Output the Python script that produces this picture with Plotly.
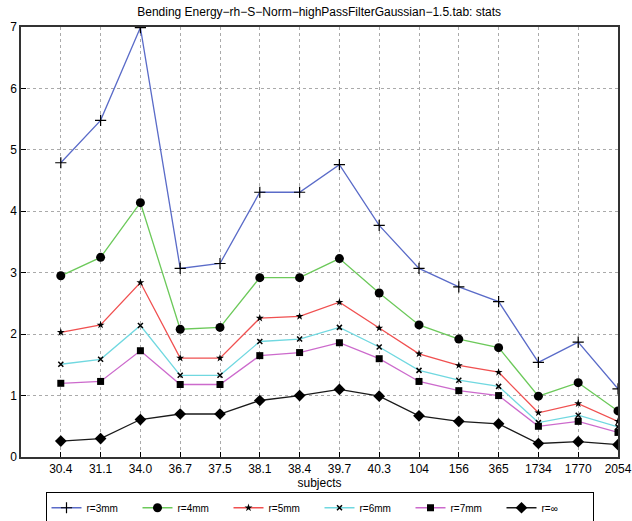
import plotly.graph_objects as go

subjects = ["30.4", "31.1", "34.0", "36.7", "37.5", "38.1", "38.4", "39.7",
            "40.3", "104", "156", "365", "1734", "1770", "2054"]

r3 = [4.79, 5.48, 6.99, 3.07, 3.15, 4.31, 4.31, 4.76, 3.77, 3.07, 2.77, 2.53, 1.54, 1.87, 1.11]
r4 = [2.95, 3.25, 4.14, 2.08, 2.11, 2.92, 2.92, 3.23, 2.67, 2.15, 1.92, 1.78, 0.99, 1.21, 0.75]
r5 = [2.03, 2.15, 2.84, 1.61, 1.61, 2.26, 2.29, 2.52, 2.10, 1.68, 1.49, 1.38, 0.72, 0.87, 0.58]
r6 = [1.51, 1.59, 2.14, 1.33, 1.33, 1.88, 1.92, 2.11, 1.79, 1.41, 1.25, 1.15, 0.56, 0.68, 0.49]
r7 = [1.20, 1.23, 1.73, 1.18, 1.18, 1.65, 1.70, 1.86, 1.60, 1.23, 1.08, 1.00, 0.50, 0.58, 0.40]
rinf = [0.26, 0.30, 0.61, 0.70, 0.70, 0.92, 1.00, 1.10, 0.99, 0.67, 0.58, 0.54, 0.22, 0.25, 0.20]

series_names = ["r=3mm", "r=4mm", "r=5mm", "r=6mm", "r=7mm", "r=\u221e"]
series_values = [r3, r4, r5, r6, r7, rinf]
line_colors = ["#5a6bc8", "#6cc95a", "#f05050", "#70d8e0", "#cc6acc", "#1a1a1a"]
markers = [
    dict(symbol="cross-thin", size=8, color="black", line=dict(color="black", width=1.2)),
    dict(symbol="circle", size=9, color="black"),
    dict(symbol="star", size=6, color="black"),
    dict(symbol="x-thin", size=5, color="black", line=dict(color="black", width=1.5)),
    dict(symbol="square", size=7, color="black"),
    dict(symbol="diamond", size=9, color="black"),
]

fig = go.Figure()
for name, vals, col, mk in zip(series_names, series_values, line_colors, markers):
    fig.add_trace(go.Scatter(
        x=subjects, y=vals, mode="lines+markers", name=name,
        line=dict(color=col, width=1.3), marker=mk,
    ))

font_family = "Liberation Sans, Arial, sans-serif"
fig.update_layout(
    width=632, height=521,
    margin=dict(l=21, r=14, t=27, b=64, autoexpand=False),
    paper_bgcolor="white", plot_bgcolor="white",
    font=dict(family=font_family, size=12, color="black"),
    title=dict(
        text="Bending Energy\u2212rh\u2212S\u2212Norm\u2212highPassFilterGaussian\u22121.5.tab: stats",
        x=0.505, xanchor="center", y=0.977, yanchor="middle",
        font=dict(size=12, family=font_family),
    ),
    showlegend=True,
    legend=dict(
        orientation="h", x=0.5, xanchor="center", y=-0.082, yanchor="top",
        bordercolor="black", borderwidth=1, bgcolor="white",
        font=dict(size=10, family=font_family),
        entrywidth=46, entrywidthmode="pixels",
        itemsizing="trace", tracegroupgap=0,
    ),
    xaxis=dict(
        type="category", range=[-1, 14], automargin=False,
        showline=True, linecolor="#333333", linewidth=1.5, mirror=True,
        ticks="inside", ticklen=5, tickcolor="black",
        showgrid=True, gridcolor="#aaaaaa", griddash="dot", gridwidth=1,
        zeroline=False,
        title=dict(text="subjects", standoff=3, font=dict(size=12)),
        tickfont=dict(size=12),
    ),
    yaxis=dict(
        range=[0, 7], dtick=1, automargin=False,
        showline=True, linecolor="#333333", linewidth=1.5, mirror=True,
        ticks="inside", ticklen=5, tickcolor="black",
        showgrid=True, gridcolor="#aaaaaa", griddash="dot", gridwidth=1,
        zeroline=False, tickfont=dict(size=12),
    ),
)

fig.write_html("out.html")
